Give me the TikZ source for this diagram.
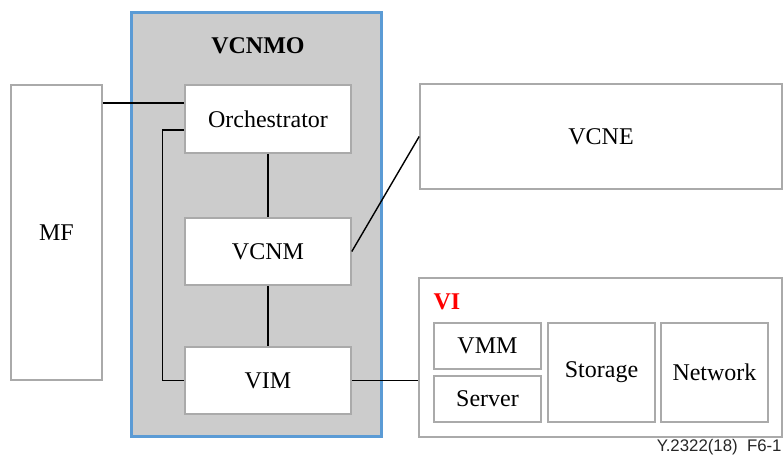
\documentclass[tikz,border=0pt]{standalone}
\usepackage{fontspec}
\setmainfont{Liberation Serif}
\newfontfamily\tagfont{Liberation Sans}
\usepackage{tikz}
\usetikzlibrary{calc}
\definecolor{boxgray}{RGB}{170,170,170}
\definecolor{mofill}{RGB}{204,204,204}
\definecolor{moblue}{RGB}{91,155,213}
% one unit = one pixel = 0.5pt
\newcommand{\vcscale}{0.5pt}
\newcommand{\vcblock}[5]{
	\node [block, minimum width=#3*\vcscale, minimum height=#4*\vcscale] (#1) at (#2) {#5};}

\begin{document}
\begin{tikzpicture}[x=0.5pt,y=-0.5pt,
	block/.style={draw=boxgray, fill=white, line width=0.8pt, inner sep=0pt,
		font=\fontsize{12}{14}\selectfont},
	wire/.style={draw=black, line width=0.7pt}]
	\useasboundingbox (0,0) rectangle (783,457);
	% management domain
	\node [draw=moblue, fill=mofill, line width=1.4pt, minimum width=250*\vcscale,
		minimum height=424*\vcscale, inner sep=0pt] (vcnmo) at (256.5,224.5) {};
	\node [font=\fontsize{12}{14}\selectfont\bfseries] (motitle) at (258,46) {VCNMO};
	\vcblock{mf}{56.5,232.5}{91}{295}{MF}
	\vcblock{orch}{268,119}{166}{68}{Orchestrator}
	\vcblock{vcnm}{268,251.5}{166}{67}{VCNM}
	\vcblock{vim}{268,380.5}{166}{67}{VIM}
	\vcblock{vcne}{601,136.5}{362}{105}{VCNE}
	% infrastructure
	\vcblock{vi}{600.5,357.5}{363}{159}{}
	\node [font=\fontsize{12}{14}\selectfont\bfseries, text=red] (vitag) at (447,302) {VI};
	\vcblock{vmm}{487.5,346}{107}{46}{VMM}
	\vcblock{server}{487.5,399}{107}{46}{Server}
	\vcblock{storage}{601.5,372.5}{107}{99}{Storage}
	\vcblock{network}{714.5,372.5}{107}{99}{Network}
	% links
	\draw [wire] ([yshift=8pt]orch.west) -- ([yshift=8pt]orch.west -| mf.east);
	\draw [wire] ([yshift=-5.5pt]orch.west) -- ++(-11pt,0) |- (vim.west);
	\draw [wire] (orch.south) -- (vcnm.north);
	\draw [wire] (vcnm.south) -- (vim.north);
	\draw [wire] (vcnm.east) -- (vcne.west);
	\draw [wire] (vim.east) -- (vim.east -| vi.west);
	\node [anchor=east, inner sep=0pt, font=\tagfont\fontsize{8.4}{10}\selectfont,
		text=black!85] (figtag) at (782,447) {Y.2322(18)\ \ F6-1};
\end{tikzpicture}
\end{document}
